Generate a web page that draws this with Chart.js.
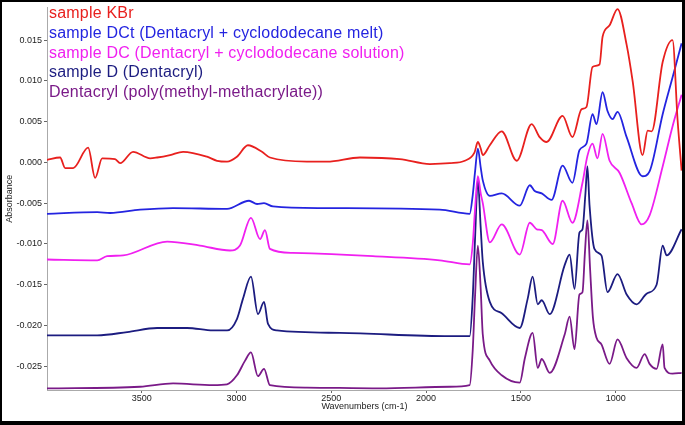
<!DOCTYPE html>
<html lang="en">
<head>
  <meta charset="UTF-8">
  <title>FTIR spectra - Dentacryl samples</title>
  <script src="https://cdn.jsdelivr.net/npm/chart.js"></script>
  <style>
    html, body { margin: 0; padding: 0; background: #fff; }
    #wrap { width: 685px; height: 425px; }
  </style>
</head>
<body>
  <div id="wrap"><canvas id="ftir" width="685" height="425"></canvas></div>

  <script>
    // series labels and colours (legend order, top to bottom)
    const seriesNames = [
      'sample KBr',
      'sample DCt (Dentacryl + cyclododecane melt)',
      'sample DC (Dentacryl + cyclododecane solution)',
      'sample D (Dentacryl)',
      'Dentacryl (poly(methyl-methacrylate))'
    ];
    const seriesColors = ['#e8201e', '#2424e0', '#f020f0', '#1c1c80', '#7a1a88'];

    // wavenumbers (cm-1) and absorbance
    const kbrWn = [4000, 3931, 3904, 3862, 3783, 3746, 3709, 3641, 3614, 3546, 3456, 3419, 3351, 3282, 3156, 3103, 3050, 2998, 2940, 2866, 2824, 2629, 2523, 2349, 2139, 1980, 1875, 1796, 1745, 1727, 1712, 1701, 1664, 1601, 1522, 1443, 1401, 1364, 1280, 1228, 1180, 1154, 1122, 1085, 1069, 1032, 990, 942, 910, 858, 831, 810, 752, 700, 673, 652];
    const kbrAbs = [0.0003, 0.0006, -0.0007, -0.0007, 0.0018, -0.0019, 0.0005, 0.0004, -0.0001, 0.0013, 0.0005, 0.0006, 0.0009, 0.0013, 0.0007, 0.0002, 0.0001, 0.0007, 0.0021, 0.0013, 0.0006, 0.0001, 0.0001, 0.0006, 0.0004, -0.0002, -0.0001, 0.0002, 0.0012, 0.0025, 0.0017, 0.0009, 0.0021, 0.0038, 0.0002, 0.0047, 0.0031, 0.0025, 0.0057, 0.0031, 0.0065, 0.0068, 0.0117, 0.0120, 0.0154, 0.0168, 0.0188, 0.0144, 0.0099, 0.0009, 0.0039, 0.0038, 0.0123, 0.0150, 0.0051, -0.0010];

    const dctWn = [4000, 3735, 3667, 3509, 3335, 3050, 2934, 2892, 2855, 2808, 2544, 1928, 1770, 1754, 1742, 1727, 1712, 1701, 1664, 1601, 1506, 1453, 1427, 1390, 1338, 1280, 1228, 1191, 1154, 1122, 1101, 1069, 1043, 1016, 990, 942, 858, 821, 752, 700, 652];
    const dctAbs = [-0.0063, -0.0061, -0.0062, -0.0058, -0.0056, -0.0057, -0.0047, -0.0051, -0.0050, -0.0054, -0.0056, -0.0058, -0.0063, -0.0040, -0.0012, 0.0017, -0.0006, -0.0022, -0.0041, -0.0038, -0.0053, -0.0028, -0.0035, -0.0038, -0.0046, -0.0004, -0.0025, 0.0015, 0.0023, 0.0059, 0.0047, 0.0086, 0.0063, 0.0053, 0.0062, 0.0031, -0.0017, -0.0011, 0.0059, 0.0104, 0.0146];

    const dcWn = [4000, 3735, 3683, 3598, 3366, 3193, 3035, 2982, 2924, 2876, 2850, 2824, 2703, 2281, 1928, 1770, 1754, 1742, 1727, 1712, 1701, 1664, 1601, 1506, 1453, 1416, 1390, 1332, 1280, 1228, 1175, 1149, 1122, 1096, 1069, 1032, 979, 916, 863, 821, 752, 700, 652];
    const dcAbs = [-0.0119, -0.0120, -0.0115, -0.0114, -0.0097, -0.0102, -0.0108, -0.0102, -0.0068, -0.0094, -0.0083, -0.0106, -0.0111, -0.0115, -0.0120, -0.0125, -0.0100, -0.0058, -0.0017, -0.0038, -0.0050, -0.0098, -0.0076, -0.0113, -0.0074, -0.0082, -0.0083, -0.0100, -0.0047, -0.0074, -0.0025, 0.0008, 0.0023, 0.0005, 0.0035, 0.0002, -0.0013, -0.0050, -0.0076, -0.0065, -0.0005, 0.0044, 0.0083];

    const dWn = [4000, 3735, 3577, 3419, 3261, 3124, 3050, 2998, 2966, 2924, 2887, 2855, 2834, 2787, 2455, 1875, 1770, 1754, 1742, 1727, 1712, 1701, 1664, 1601, 1506, 1464, 1438, 1411, 1390, 1348, 1269, 1243, 1217, 1191, 1175, 1160, 1149, 1138, 1112, 1075, 1043, 990, 942, 890, 837, 784, 752, 731, 652];
    const dAbs = [-0.0212, -0.0212, -0.0208, -0.0203, -0.0203, -0.0206, -0.0206, -0.0192, -0.0167, -0.0140, -0.0186, -0.0171, -0.0198, -0.0206, -0.0209, -0.0213, -0.0213, -0.0165, -0.0095, -0.0021, -0.0080, -0.0122, -0.0171, -0.0185, -0.0203, -0.0167, -0.0140, -0.0174, -0.0169, -0.0186, -0.0126, -0.0113, -0.0155, -0.0086, -0.0082, -0.0040, -0.0005, -0.0052, -0.0106, -0.0114, -0.0159, -0.0137, -0.0162, -0.0174, -0.0161, -0.0150, -0.0102, -0.0114, -0.0082];

    const pmmaWn = [4000, 3509, 3335, 3124, 3050, 2998, 2955, 2924, 2887, 2855, 2824, 2629, 2245, 1875, 1770, 1754, 1742, 1727, 1712, 1701, 1664, 1601, 1506, 1479, 1438, 1411, 1390, 1348, 1269, 1243, 1217, 1191, 1175, 1162, 1149, 1135, 1120, 1101, 1075, 1032, 990, 942, 890, 847, 821, 784, 752, 742, 700, 652];
    const pmmaAbs = [-0.0277, -0.0275, -0.0271, -0.0273, -0.0272, -0.0261, -0.0243, -0.0233, -0.0262, -0.0253, -0.0273, -0.0276, -0.0277, -0.0275, -0.0273, -0.0230, -0.0165, -0.0102, -0.0155, -0.0211, -0.0243, -0.0261, -0.0270, -0.0240, -0.0209, -0.0252, -0.0241, -0.0258, -0.0211, -0.0189, -0.0229, -0.0162, -0.0159, -0.0110, -0.0071, -0.0130, -0.0190, -0.0215, -0.0223, -0.0247, -0.0217, -0.0240, -0.0252, -0.0235, -0.0247, -0.0253, -0.0223, -0.0252, -0.0259, -0.0258];

    const xTicks = [3500, 3000, 2500, 2000, 1500, 1000];
    const yTicks = [0.015, 0.010, 0.005, 0.000, -0.005, -0.010, -0.015, -0.020, -0.025];

    const FONT = '"Liberation Sans", Arial, Helvetica, sans-serif';
    const allWn = [kbrWn, dctWn, dcWn, dWn, pmmaWn];
    const allAbs = [kbrAbs, dctAbs, dcAbs, dAbs, pmmaAbs];

    const datasets = seriesNames.map((name, i) => ({
      label: name,
      data: allWn[i].map((w, j) => ({ x: w, y: allAbs[i][j] })),
      borderColor: seriesColors[i],
      borderWidth: 1.8,
      pointRadius: 0,
      cubicInterpolationMode: 'monotone',
      fill: false
    }));

    // coloured legend text in the upper left of the plot
    const textLegend = {
      id: 'textLegend',
      afterDatasetsDraw(chart) {
        const c = chart.ctx;
        c.save();
        c.font = '16px ' + FONT;
        c.letterSpacing = '0.2px';
        c.textBaseline = 'alphabetic';
        c.textAlign = 'left';
        chart.data.datasets.forEach((ds, i) => {
          c.fillStyle = ds.borderColor;
          c.fillText(ds.label, 49, 18 + i * 19.8);
        });
        c.restore();
      }
    };

    // black frame round the picture
    const frame = {
      id: 'frame',
      afterDraw(chart) {
        const c = chart.ctx;
        c.save();
        c.fillStyle = '#000';
        c.fillRect(0, 0, 685, 2);
        c.fillRect(0, 0, 2, 425);
        c.fillRect(682, 0, 3, 425);
        c.fillRect(0, 421, 685, 4);
        c.restore();
      }
    };

    new Chart(document.getElementById('ftir'), {
      type: 'line',
      data: { datasets },
      plugins: [textLegend, frame],
      options: {
        responsive: false,
        animation: false,
        layout: { padding: { left: 0, right: 3, top: 2, bottom: 0 } },
        plugins: { legend: { display: false }, tooltip: { enabled: false } },
        scales: {
          x: {
            type: 'linear',
            reverse: true,
            min: 650,
            max: 4000,
            afterBuildTicks: s => { s.ticks = xTicks.map(v => ({ value: v })); },
            afterFit: s => { s.height = 35; },
            ticks: { font: { family: FONT, size: 9 }, color: '#222', padding: 0, maxRotation: 0, autoSkip: false, callback: v => String(v) },
            grid: { drawOnChartArea: false, tickLength: 3, color: '#666' },
            border: { color: '#aaa' },
            title: { display: true, text: 'Wavenumbers (cm-1)', color: '#222', font: { family: FONT, size: 9 }, padding: { top: 0, bottom: 13 } }
          },
          y: {
            min: -0.0279,
            max: 0.019,
            afterBuildTicks: s => { s.ticks = yTicks.map(v => ({ value: v })); },
            afterFit: s => { s.width = 47; },
            ticks: { font: { family: FONT, size: 9 }, color: '#222', padding: 2, callback: v => v.toFixed(3) },
            grid: { drawOnChartArea: false, tickLength: 3, color: '#666' },
            border: { color: '#aaa' },
            title: { display: true, text: 'Absorbance', color: '#222', font: { family: FONT, size: 9 }, padding: { top: 4, bottom: 0 } }
          }
        }
      }
    });
  </script>
</body>
</html>
